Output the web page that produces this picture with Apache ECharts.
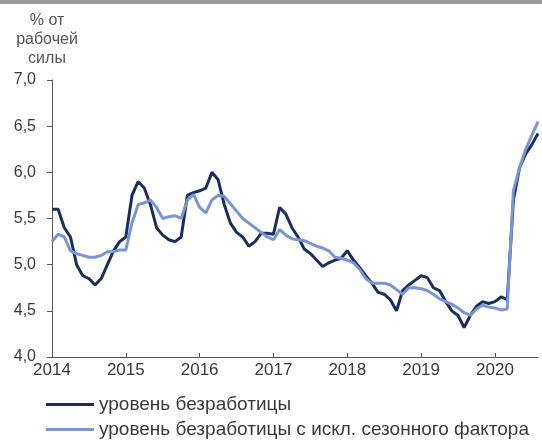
<!DOCTYPE html>
<html>
<head>
<meta charset="utf-8">
<script src="https://cdn.jsdelivr.net/npm/echarts@6/dist/echarts.min.js"></script>
<style>
html,body{margin:0;padding:0;background:#fff;}
#chart{width:542px;height:441px;}
</style>
</head>
<body>
<div id="chart"></div>
<script>
// Months Jan 2014 .. Aug 2020
const years = [2014, 2015, 2016, 2017, 2018, 2019, 2020];
const months = [];
years.forEach(y => { for (let m = 1; m <= 12; m++) { if (y === 2020 && m > 8) break; months.push(y + '-' + (m < 10 ? '0' + m : m)); } });

const unemployment = [
  5.6, 5.6, 5.4, 5.3, 5.0, 4.88, 4.85, 4.78, 4.85, 5.0, 5.15, 5.25,
  5.3, 5.75, 5.9, 5.83, 5.65, 5.4, 5.32, 5.27, 5.25, 5.3, 5.75, 5.78,
  5.8, 5.83, 6.0, 5.92, 5.65, 5.45, 5.35, 5.3, 5.2, 5.25, 5.34, 5.34,
  5.33, 5.62, 5.55, 5.4, 5.3, 5.17, 5.12, 5.05, 4.98, 5.02, 5.05, 5.07,
  5.15, 5.05, 4.97, 4.88, 4.8, 4.7, 4.68, 4.62, 4.5, 4.72, 4.78, 4.83,
  4.88, 4.86, 4.75, 4.72, 4.6, 4.5, 4.45, 4.32, 4.45, 4.55, 4.6, 4.58,
  4.6, 4.65, 4.62, 5.7, 6.05, 6.2, 6.3, 6.42
];
const unemploymentSA = [
  5.25, 5.33, 5.3, 5.15, 5.12, 5.1, 5.08, 5.08, 5.1, 5.14, 5.14, 5.16,
  5.16, 5.45, 5.65, 5.67, 5.7, 5.62, 5.5, 5.52, 5.53, 5.5, 5.7, 5.76,
  5.62, 5.56, 5.7, 5.75, 5.74, 5.66, 5.58, 5.5, 5.45, 5.4, 5.35, 5.3,
  5.27, 5.38, 5.32, 5.28, 5.27, 5.26, 5.23, 5.2, 5.18, 5.15, 5.08, 5.07,
  5.05, 5.02, 4.95, 4.85, 4.8, 4.8, 4.8, 4.78, 4.73, 4.68, 4.75, 4.75,
  4.74, 4.72, 4.68, 4.63, 4.6, 4.57, 4.53, 4.48, 4.45, 4.52, 4.56, 4.54,
  4.53, 4.51, 4.52, 5.8, 6.05, 6.25, 6.4, 6.55
];
const seriesNames = ['уровень безработицы', 'уровень безработицы с искл. сезонного фактора'];
const unitLabel = '% от\nрабочей\nсилы';

const chart = echarts.init(document.getElementById('chart'));
const font = 'Arial, "Liberation Sans", sans-serif';
const legendBase = {
  orient: 'horizontal', left: 46, padding: 0, itemWidth: 48, itemHeight: 3,
  icon: 'rect', selectedMode: false,
  textStyle: { fontSize: 19, color: '#3a3a3a', fontFamily: font }
};
chart.setOption({
  animation: false,
  backgroundColor: '#fff',
  graphic: [
    { type: 'rect', left: 0, top: 0, shape: { width: 542, height: 4 }, style: { fill: '#9a9a9a' } },
    { type: 'text', x: 47, y: 11, style: { text: unitLabel, textAlign: 'center', fontSize: 16, lineHeight: 19, fill: '#555', fontFamily: font } }
  ],
  grid: { left: 52, right: 4, top: 80, bottom: 84 },
  legend: [
    Object.assign({}, legendBase, { top: 395, data: [seriesNames[0]] }),
    Object.assign({}, legendBase, { top: 420, data: [seriesNames[1]] })
  ],
  xAxis: {
    type: 'category', data: months, boundaryGap: false,
    axisLine: { lineStyle: { color: '#555', width: 1 } },
    axisTick: { inside: true, length: 4, interval: (i) => i % 12 === 0, lineStyle: { color: '#555' } },
    axisLabel: { interval: (i) => i % 12 === 0, formatter: (v) => v.slice(0, 4), fontSize: 17, color: '#3a3a3a', margin: 5, fontFamily: font },
    splitLine: { show: false }
  },
  yAxis: {
    type: 'value', min: 4, max: 7, interval: 0.5,
    axisLine: { show: true, lineStyle: { color: '#555', width: 1 } },
    axisTick: { show: true, length: 5, lineStyle: { color: '#555' } },
    axisLabel: { formatter: (v) => v.toFixed(1).replace('.', ','), fontSize: 16, color: '#3a3a3a', margin: 16, fontFamily: font },
    splitLine: { show: false }
  },
  series: [
    { name: seriesNames[0], type: 'line', data: unemployment, showSymbol: false, color: '#1c2e5c', lineStyle: { width: 3, color: '#1c2e5c' } },
    { name: seriesNames[1], type: 'line', data: unemploymentSA, showSymbol: false, color: '#7a95d2', lineStyle: { width: 3, color: '#7a95d2' } }
  ]
});
</script>
</body>
</html>
